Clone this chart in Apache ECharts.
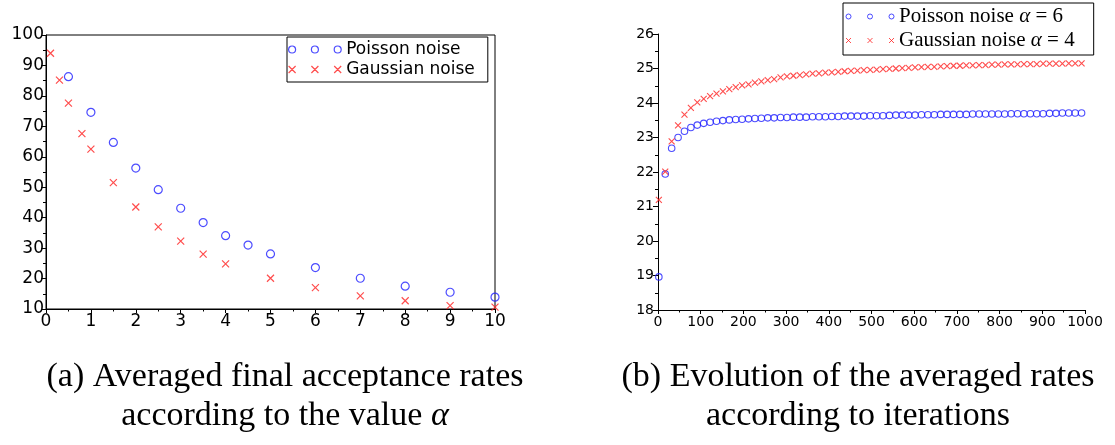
<!DOCTYPE html>
<html>
<head>
<meta charset="utf-8">
<script src="https://cdn.jsdelivr.net/npm/echarts@6/dist/echarts.min.js"></script>
<style>html,body{margin:0;padding:0;background:#fff}#c{width:1115px;height:445px}</style>
</head>
<body>
<div id="c"></div>
<script>
// ---- Panel (a): final acceptance rate vs alpha ----
const poissonAlpha = [0.5, 1, 1.5, 2, 2.5, 3, 3.5, 4, 4.5, 5, 6, 7, 8, 9, 10];
const poissonRates = [86.3, 74.6, 64.7, 56.3, 49.2, 43.1, 38.4, 34.1, 31.0, 28.1, 23.6, 20.1, 17.5, 15.5, 13.9];
const gaussAlpha = [0.1, 0.3, 0.5, 0.8, 1, 1.5, 2, 2.5, 3, 3.5, 4, 5, 6, 7, 8, 9, 10];
const gaussRates = [94.0, 85.2, 77.6, 67.6, 62.5, 51.5, 43.5, 37.0, 32.3, 28.0, 24.8, 20.1, 17.0, 14.3, 12.7, 11.1, 10.6];

// ---- Panel (b): averaged rates vs iterations ----
const iterations = [2, 17, 32, 47, 62, 77, 92, 107, 122, 137, 152, 167, 182, 197, 212, 227, 242, 257, 272, 287,
  302, 317, 332, 347, 362, 377, 392, 407, 422, 437, 452, 467, 482, 497, 512, 527, 542, 557, 572, 587,
  602, 617, 632, 647, 662, 677, 692, 707, 722, 737, 752, 767, 782, 797, 812, 827, 842, 857, 872, 887,
  902, 917, 932, 947, 962, 977, 992];
const poissonIter = [18.96, 21.94, 22.69, 23.00, 23.18, 23.29, 23.36, 23.41, 23.44, 23.47,
  23.49, 23.51, 23.52, 23.53, 23.54, 23.55, 23.56, 23.57, 23.57, 23.58,
  23.58, 23.59, 23.59, 23.59, 23.60, 23.60, 23.60, 23.61, 23.61, 23.62,
  23.62, 23.62, 23.62, 23.63, 23.63, 23.63, 23.64, 23.65, 23.65, 23.65,
  23.65, 23.66, 23.66, 23.66, 23.67, 23.67, 23.67, 23.67, 23.67, 23.68,
  23.68, 23.68, 23.68, 23.68, 23.68, 23.69, 23.69, 23.69, 23.69, 23.69,
  23.69, 23.70, 23.70, 23.71, 23.71, 23.71, 23.71];
const gaussIter = [21.19, 22.01, 22.89, 23.35, 23.66, 23.86, 24.02, 24.12, 24.20, 24.27,
  24.34, 24.40, 24.46, 24.51, 24.54, 24.59, 24.63, 24.66, 24.69, 24.74,
  24.77, 24.79, 24.81, 24.83, 24.85, 24.86, 24.88, 24.89, 24.90, 24.92,
  24.93, 24.94, 24.95, 24.96, 24.97, 24.98, 24.99, 25.00, 25.01, 25.02,
  25.03, 25.04, 25.05, 25.05, 25.06, 25.07, 25.08, 25.08, 25.09, 25.09,
  25.10, 25.10, 25.11, 25.11, 25.12, 25.12, 25.12, 25.13, 25.13, 25.13,
  25.14, 25.14, 25.14, 25.14, 25.15, 25.15, 25.15];

const names = ['Poisson noise', 'Gaussian noise', 'Poisson noise α = 6', 'Gaussian noise α = 4'];
const captionA = ['(a) Averaged final acceptance rates', 'according to the value {i|α}'];
const captionB = ['(b) Evolution of the averaged rates', 'according to iterations'];

const BLUE = '#1f1fff', RED = '#ff2020';
const CROSS = 'path://M0,0L10,10M10,0L0,10';
const sans = 'DejaVu Sans', serif = 'Liberation Serif';

function zip(xs, ys) { return xs.map((x, i) => [x, ys[i]]); }
const plain = v => String(v);

function axisCommon(extra, fs, margin, tickLen, minorLen) {
  return Object.assign({
    type: 'value',
    axisLine: { show: true, onZero: false, lineStyle: { color: '#000', width: 1 } },
    axisTick: { show: true, inside: false, length: tickLen, lineStyle: { color: '#000' } },
    minorTick: { show: true, splitNumber: 2, length: minorLen, lineStyle: { color: '#000' } },
    splitLine: { show: false },
    minorSplitLine: { show: false },
    axisLabel: { color: '#000', fontFamily: sans, fontSize: fs, margin: margin, formatter: plain }
  }, extra);
}

const circleIconL = 'path://M0,3.5a3.5,3.5 0 1,0 7,0a3.5,3.5 0 1,0 -7,0M22.8,3.5a3.5,3.5 0 1,0 7,0a3.5,3.5 0 1,0 -7,0M45.6,3.5a3.5,3.5 0 1,0 7,0a3.5,3.5 0 1,0 -7,0';
const crossIconL = 'path://M0,0L7,7M7,0L0,7M22.8,0L29.8,7M29.8,0L22.8,7M45.6,0L52.6,7M52.6,0L45.6,7';
const circleIconR = 'path://M0,2.5a2.5,2.5 0 1,0 5,0a2.5,2.5 0 1,0 -5,0M21.5,2.5a2.5,2.5 0 1,0 5,0a2.5,2.5 0 1,0 -5,0M43,2.5a2.5,2.5 0 1,0 5,0a2.5,2.5 0 1,0 -5,0';
const crossIconR = 'path://M0,0L5,5M5,0L0,5M21.5,0L26.5,5M26.5,0L21.5,5M43,0L48,5M48,0L43,5';

const chart = echarts.init(document.getElementById('c'), null, { renderer: 'canvas' });
chart.setOption({
  backgroundColor: '#fff',
  animation: false,
  grid: [
    { left: 46, top: 35, width: 449, height: 274, show: true, borderColor: '#000', borderWidth: 1, backgroundColor: 'transparent' },
    { left: 658, top: 34, width: 427, height: 276 }
  ],
  xAxis: [
    axisCommon({ gridIndex: 0, min: 0, max: 10, interval: 1 }, 17, 4, 4, 2.5),
    axisCommon({ gridIndex: 1, min: 0, max: 1000, interval: 100 }, 14, 5, 4, 2.5)
  ],
  yAxis: [
    axisCommon({ gridIndex: 0, min: 10, max: 100, interval: 10 }, 17, 2, 5, 3),
    axisCommon({ gridIndex: 1, min: 18, max: 26, interval: 1 }, 14, 4, 5, 3)
  ],
  legend: [
    {
      left: 287, top: 37, orient: 'vertical', selectedMode: false,
      backgroundColor: '#fff', borderColor: '#000', borderWidth: 1, borderRadius: 0,
      padding: [4, 13, 4, 1], itemGap: 3, itemWidth: 52.6, itemHeight: 7,
      textStyle: { fontFamily: sans, fontSize: 17, color: '#000', lineHeight: 16 },
      data: [
        { name: names[0], icon: circleIconL, itemStyle: { color: 'rgba(0,0,0,0)', borderColor: BLUE, borderWidth: 1.2 } },
        { name: names[1], icon: crossIconL, itemStyle: { color: 'rgba(0,0,0,0)', borderColor: RED, borderWidth: 1.2 } }
      ]
    },
    {
      left: 843, top: 3, orient: 'vertical', selectedMode: false,
      backgroundColor: '#fff', borderColor: '#000', borderWidth: 1, borderRadius: 0,
      padding: [3, 19, 4, 2.5], itemGap: 3, itemWidth: 48, itemHeight: 5,
      formatter: function (n) { return n.replace('α', '{i|α}'); },
      textStyle: { fontFamily: serif, fontSize: 21, color: '#000', lineHeight: 21,
        rich: { i: { fontFamily: serif, fontStyle: 'italic', fontSize: 21, color: '#000', lineHeight: 21 } } },
      data: [
        { name: names[2], icon: circleIconR, itemStyle: { color: 'rgba(0,0,0,0)', borderColor: BLUE, borderWidth: 1 } },
        { name: names[3], icon: crossIconR, itemStyle: { color: 'rgba(0,0,0,0)', borderColor: RED, borderWidth: 1 } }
      ]
    }
  ],
  series: [
    { name: names[0], type: 'scatter', xAxisIndex: 0, yAxisIndex: 0, symbol: 'circle', symbolSize: 8,
      itemStyle: { color: 'rgba(0,0,0,0)', borderColor: BLUE, borderWidth: 1.2 }, data: zip(poissonAlpha, poissonRates) },
    { name: names[1], type: 'scatter', xAxisIndex: 0, yAxisIndex: 0, symbol: CROSS, symbolSize: 7,
      itemStyle: { color: 'rgba(0,0,0,0)', borderColor: RED, borderWidth: 1.2 }, data: zip(gaussAlpha, gaussRates) },
    { name: names[2], type: 'scatter', xAxisIndex: 1, yAxisIndex: 1, symbol: 'circle', symbolSize: 6.5,
      itemStyle: { color: 'rgba(0,0,0,0)', borderColor: BLUE, borderWidth: 1.1 }, data: zip(iterations, poissonIter) },
    { name: names[3], type: 'scatter', xAxisIndex: 1, yAxisIndex: 1, symbol: CROSS, symbolSize: 6,
      itemStyle: { color: 'rgba(0,0,0,0)', borderColor: RED, borderWidth: 1.1 }, data: zip(iterations, gaussIter) }
  ],
  graphic: [
    { type: 'text', x: 285, y: 358, style: { text: captionA.join('\n'), textAlign: 'center', textVerticalAlign: 'top',
      font: '34px "Liberation Serif"', fill: '#000', lineHeight: 39,
      rich: { i: { fontFamily: serif, fontStyle: 'italic', fontSize: 34, lineHeight: 39 } } } },
    { type: 'text', x: 858, y: 358, style: { text: captionB.join('\n'), textAlign: 'center', textVerticalAlign: 'top',
      font: '34px "Liberation Serif"', fill: '#000', lineHeight: 39 } }
  ]
});
</script>
</body>
</html>
